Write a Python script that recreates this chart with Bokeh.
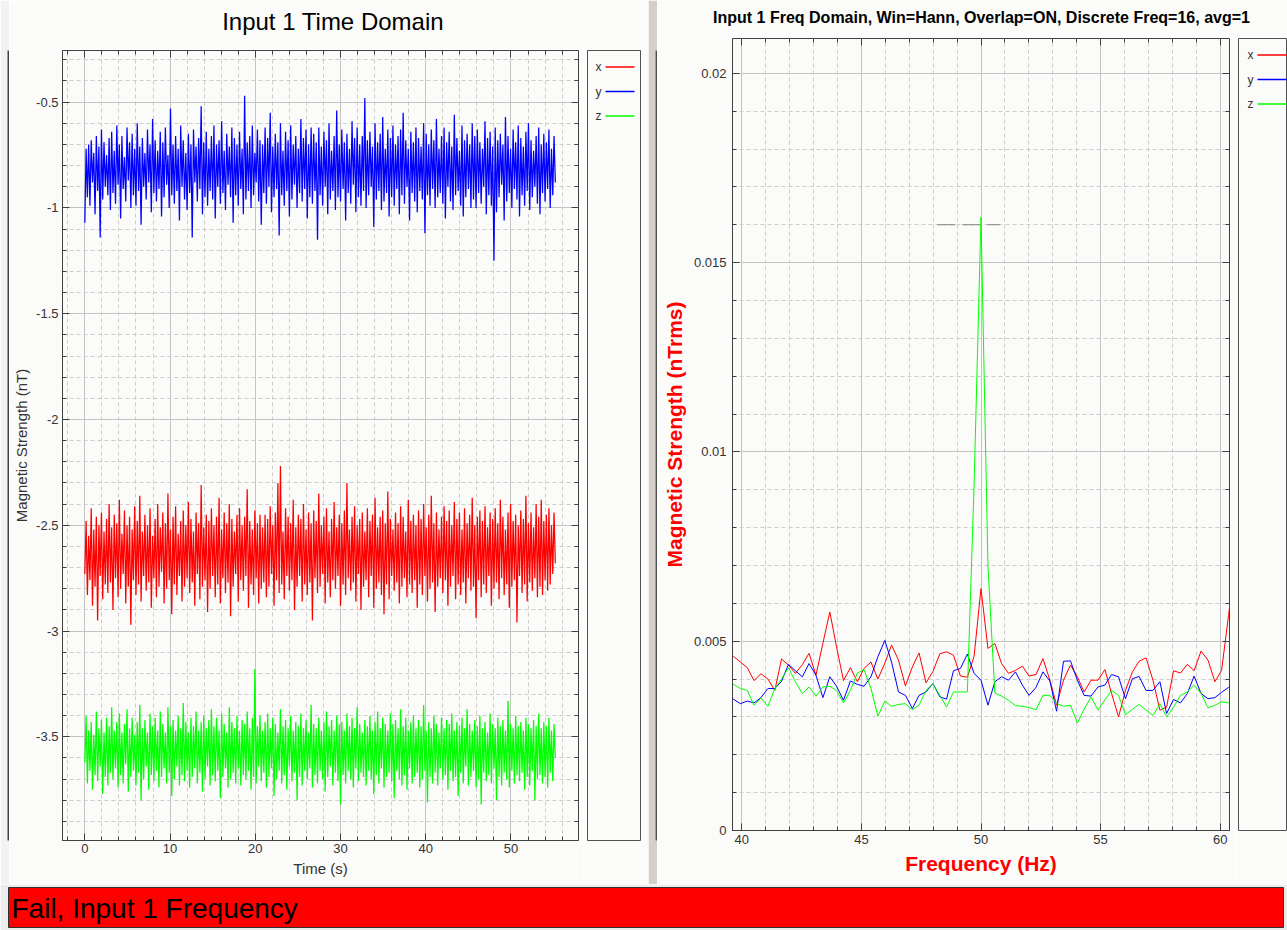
from bokeh.plotting import figure
from bokeh.layouts import row, column
from bokeh.models import Range1d, SingleIntervalTicker, LinearAxis, PrintfTickFormatter, Label
from bokeh.embed import file_html
from bokeh.resources import INLINE
from bokeh.core.properties import value

FONT = "Liberation Sans"
BG = "#fbfbf9"
FRAME = "#404040"
TICK_TXT = "#333333"

SERIES = ["x", "y", "z"]
COLORS = ["#ff0000", "#0000ff", "#00ff00"]

# ---------------- time domain (nT), one value every SAMPLE_DT seconds ----------------
SAMPLE_DT = 0.15
X_TIME = [
    -2.73, -2.48, -2.83, -2.55, -2.76, -2.42, -2.88, -2.52, -2.79, -2.46, -2.95, -2.50, -2.74, -2.44, -2.85, -2.53, -2.78, -2.47, -2.82, -2.40,
    -2.77, -2.51, -2.90, -2.45, -2.75, -2.49, -2.84, -2.38, -2.80, -2.54, -2.73, -2.43, -2.87, -2.50, -2.79, -2.46, -2.97, -2.52, -2.76, -2.41,
    -2.83, -2.48, -2.78, -2.36, -2.86, -2.53, -2.74, -2.45, -2.81, -2.50, -2.77, -2.42, -2.89, -2.55, -2.75, -2.47, -2.84, -2.40, -2.79, -2.51,
    -2.72, -2.44, -2.87, -2.49, -2.80, -2.35, -2.76, -2.52, -2.92, -2.46, -2.78, -2.41, -2.83, -2.54, -2.74, -2.48, -2.86, -2.43, -2.79, -2.50,
    -2.75, -2.39, -2.82, -2.47, -2.77, -2.53, -2.88, -2.44, -2.73, -2.49, -2.85, -2.31, -2.79, -2.51, -2.76, -2.45, -2.91, -2.48, -2.80, -2.42,
    -2.74, -2.50, -2.84, -2.46, -2.78, -2.37, -2.87, -2.52, -2.75, -2.44, -2.82, -2.49, -2.77, -2.40, -2.93, -2.47, -2.79, -2.53, -2.73, -2.45,
    -2.86, -2.42, -2.76, -2.50, -2.81, -2.46, -2.74, -2.33, -2.89, -2.48, -2.78, -2.52, -2.83, -2.43, -2.75, -2.49, -2.87, -2.45, -2.80, -2.51,
    -2.77, -2.45, -2.84, -2.47, -2.79, -2.41, -2.73, -2.50, -2.88, -2.44, -2.76, -2.30, -2.82, -2.22, -2.78, -2.53, -2.85, -2.42, -2.74, -2.46,
    -2.81, -2.49, -2.76, -2.38, -2.90, -2.51, -2.79, -2.45, -2.74, -2.47, -2.86, -2.40, -2.78, -2.52, -2.83, -2.44, -2.77, -2.49, -2.95, -2.43,
    -2.75, -2.48, -2.82, -2.35, -2.79, -2.50, -2.73, -2.46, -2.87, -2.42, -2.77, -2.53, -2.84, -2.47, -2.76, -2.39, -2.80, -2.51, -2.74, -2.45,
    -2.88, -2.49, -2.78, -2.43, -2.83, -2.30, -2.75, -2.52, -2.81, -2.46, -2.77, -2.41, -2.86, -2.50, -2.73, -2.47, -2.90, -2.44, -2.79, -2.53,
    -2.76, -2.42, -2.84, -2.48, -2.74, -2.45, -2.89, -2.37, -2.80, -2.51, -2.77, -2.46, -2.83, -2.43, -2.92, -2.49, -2.78, -2.34, -2.85, -2.47,
    -2.74, -2.52, -2.81, -2.44, -2.77, -2.49, -2.87, -2.41, -2.79, -2.46, -2.75, -2.53, -2.84, -2.38, -2.78, -2.48, -2.82, -2.45, -2.76, -2.50,
    -2.89, -2.43, -2.78, -2.47, -2.83, -2.40, -2.74, -2.51, -2.86, -2.45, -2.80, -2.36, -2.77, -2.49, -2.91, -2.44, -2.79, -2.52, -2.75, -2.46,
    -2.82, -2.41, -2.76, -2.48, -2.88, -2.43, -2.79, -2.50, -2.74, -2.39, -2.85, -2.47, -2.78, -2.44, -2.83, -2.52, -2.77, -2.42, -2.87, -2.49,
    -2.75, -2.45, -2.81, -2.37, -2.79, -2.50, -2.94, -2.46, -2.76, -2.43, -2.84, -2.48, -2.78, -2.41, -2.82, -2.51, -2.74, -2.44, -2.88, -2.47,
    -2.80, -2.42, -2.77, -2.49, -2.85, -2.38, -2.75, -2.46, -2.83, -2.52, -2.78, -2.44, -2.89, -2.40, -2.79, -2.48, -2.76, -2.45, -2.96, -2.50,
    -2.74, -2.43, -2.82, -2.47, -2.78, -2.36, -2.86, -2.49, -2.77, -2.44, -2.81, -2.51, -2.75, -2.40, -2.84, -2.46, -2.79, -2.38, -2.83, -2.48,
    -2.76, -2.45, -2.81, -2.42, -2.78, -2.50, -2.73, -2.44, -2.68,
]
Y_TIME = [
    -1.07, -0.72, -0.95, -0.70, -0.99, -0.68, -0.88, -0.74, -1.03, -0.66, -0.92, -0.71, -1.14, -0.63, -0.96, -0.69, -0.90, -0.75, -0.94, -0.67,
    -1.01, -0.64, -0.93, -0.73, -0.98, -0.61, -0.89, -0.70, -1.05, -0.66, -0.91, -0.76, -0.97, -0.62, -0.87, -0.69, -1.00, -0.65, -0.94, -0.72,
    -0.99, -0.60, -0.92, -0.71, -1.08, -0.67, -0.90, -0.74, -0.96, -0.63, -0.88, -0.70, -1.02, -0.58, -0.93, -0.68, -0.97, -0.73, -0.91, -0.64,
    -1.04, -0.69, -0.95, -0.62, -0.89, -0.75, -1.00, -0.53, -0.94, -0.70, -0.98, -0.66, -0.92, -0.72, -1.06, -0.61, -0.90, -0.68, -0.96, -0.74,
    -1.01, -0.65, -0.93, -0.70, -1.14, -0.63, -0.88, -0.71, -0.97, -0.67, -0.91, -0.52, -1.03, -0.69, -0.95, -0.64, -0.99, -0.72, -0.92, -0.66,
    -0.96, -0.61, -1.05, -0.70, -0.90, -0.68, -0.98, -0.59, -0.93, -0.73, -1.01, -0.65, -0.89, -0.71, -0.95, -0.62, -1.07, -0.67, -0.94, -0.70,
    -0.99, -0.64, -0.91, -0.72, -1.03, -0.47, -0.96, -0.69, -0.92, -0.66, -1.00, -0.61, -0.94, -0.74, -0.88, -0.63, -0.97, -0.68, -1.08, -0.70,
    -0.93, -0.62, -0.98, -0.67, -0.90, -0.55, -1.02, -0.71, -0.95, -0.65, -0.91, -0.69, -1.13, -0.60, -0.94, -0.73, -0.99, -0.64, -0.92, -0.68,
    -1.04, -0.61, -0.96, -0.70, -0.89, -0.66, -1.00, -0.72, -0.93, -0.58, -0.97, -0.67, -0.91, -0.63, -1.05, -0.70, -0.95, -0.62, -0.98, -0.65,
    -0.92, -0.69, -1.15, -0.62, -0.94, -0.71, -0.99, -0.64, -0.90, -0.68, -1.03, -0.60, -0.96, -0.73, -0.92, -0.66, -1.01, -0.54, -0.95, -0.70,
    -0.97, -0.63, -0.91, -0.69, -1.06, -0.65, -0.93, -0.72, -0.98, -0.59, -0.89, -0.67, -1.02, -0.62, -0.95, -0.70, -0.99, -0.66, -0.92, -0.48,
    -1.00, -0.68, -0.94, -0.64, -0.90, -0.71, -1.09, -0.60, -0.96, -0.69, -0.92, -0.65, -1.01, -0.57, -0.97, -0.72, -0.93, -0.63, -1.04, -0.67,
    -0.95, -0.61, -0.99, -0.70, -0.91, -0.66, -1.03, -0.63, -0.94, -0.55, -0.98, -0.68, -0.90, -0.72, -1.06, -0.64, -0.93, -0.69, -0.97, -0.62,
    -1.02, -0.67, -0.92, -0.71, -0.96, -0.60, -1.12, -0.65, -0.94, -0.70, -0.99, -0.63, -0.91, -0.68, -1.00, -0.58, -0.95, -0.72, -0.93, -0.66,
    -0.98, -0.62, -1.05, -0.69, -0.90, -0.64, -0.97, -0.71, -1.01, -0.56, -0.94, -0.67, -0.92, -0.73, -0.99, -0.61, -1.04, -0.68, -0.95, -0.65,
    -0.91, -0.70, -1.00, -0.60, -0.96, -0.66, -1.00, -0.63, -0.93, -0.69, -0.98, -0.72, -0.90, -0.59, -1.03, -0.67, -0.94, -0.64, -0.99, -0.71,
    -1.25, -0.62, -1.02, -0.68, -0.95, -0.65, -0.89, -0.70, -1.06, -0.57, -0.97, -0.66, -0.93, -0.72, -1.00, -0.63, -0.91, -0.69, -0.96, -0.61,
    -1.04, -0.67, -0.94, -0.71, -0.99, -0.64, -0.92, -0.60, -1.01, -0.68, -0.95, -0.73, -0.90, -0.66, -0.98, -0.62, -1.03, -0.70, -0.93, -0.65,
    -0.97, -0.69, -0.91, -0.63, -1.00, -0.72, -0.94, -0.66, -0.88,
]
Z_TIME = [
    -3.62, -3.40, -3.72, -3.47, -3.66, -3.43, -3.75, -3.49, -3.68, -3.38, -3.71, -3.46, -3.64, -3.42, -3.77, -3.48, -3.69, -3.41, -3.73, -3.45,
    -3.67, -3.36, -3.70, -3.47, -3.65, -3.43, -3.74, -3.39, -3.68, -3.48, -3.72, -3.44, -3.63, -3.37, -3.76, -3.46, -3.69, -3.41, -3.66, -3.49,
    -3.73, -3.43, -3.67, -3.35, -3.80, -3.46, -3.70, -3.42, -3.64, -3.48, -3.75, -3.39, -3.68, -3.45, -3.71, -3.41, -3.66, -3.47, -3.74, -3.38,
    -3.69, -3.44, -3.65, -3.48, -3.72, -3.36, -3.67, -3.45, -3.78, -3.42, -3.70, -3.47, -3.64, -3.40, -3.73, -3.46, -3.68, -3.34, -3.71, -3.43,
    -3.66, -3.48, -3.74, -3.41, -3.69, -3.45, -3.65, -3.38, -3.72, -3.47, -3.67, -3.43, -3.76, -3.40, -3.70, -3.46, -3.64, -3.42, -3.73, -3.37,
    -3.68, -3.45, -3.71, -3.41, -3.66, -3.47, -3.79, -3.39, -3.69, -3.44, -3.65, -3.48, -3.74, -3.36, -3.70, -3.43, -3.67, -3.46, -3.72, -3.40,
    -3.65, -3.47, -3.73, -3.42, -3.68, -3.44, -3.70, -3.38, -3.66, -3.46, -3.75, -3.41, -3.69, -3.18, -3.72, -3.45, -3.64, -3.40, -3.71, -3.47,
    -3.67, -3.43, -3.74, -3.39, -3.69, -3.46, -3.65, -3.41, -3.78, -3.44, -3.70, -3.48, -3.66, -3.37, -3.72, -3.45, -3.68, -3.42, -3.75, -3.46,
    -3.64, -3.40, -3.71, -3.47, -3.67, -3.43, -3.80, -3.45, -3.69, -3.39, -3.73, -3.46, -3.66, -3.42, -3.70, -3.48, -3.65, -3.35, -3.74, -3.44,
    -3.68, -3.46, -3.72, -3.41, -3.66, -3.47, -3.70, -3.43, -3.76, -3.38, -3.69, -3.45, -3.64, -3.42, -3.73, -3.47, -3.67, -3.40, -3.71, -3.44,
    -3.82, -3.43, -3.68, -3.47, -3.72, -3.39, -3.66, -3.45, -3.70, -3.41, -3.74, -3.46, -3.65, -3.36, -3.71, -3.44, -3.67, -3.48, -3.69, -3.42,
    -3.73, -3.45, -3.66, -3.40, -3.70, -3.47, -3.77, -3.43, -3.68, -3.38, -3.72, -3.46, -3.65, -3.41, -3.74, -3.44, -3.69, -3.47, -3.67, -3.39,
    -3.71, -3.44, -3.79, -3.42, -3.66, -3.46, -3.70, -3.37, -3.73, -3.45, -3.68, -3.41, -3.75, -3.47, -3.65, -3.43, -3.72, -3.40, -3.69, -3.46,
    -3.67, -3.42, -3.74, -3.45, -3.70, -3.35, -3.66, -3.47, -3.81, -3.43, -3.69, -3.46, -3.72, -3.40, -3.67, -3.44, -3.73, -3.48, -3.65, -3.41,
    -3.70, -3.46, -3.68, -3.42, -3.75, -3.44, -3.66, -3.39, -3.71, -3.47, -3.69, -3.43, -3.78, -3.45, -3.67, -3.41, -3.72, -3.46, -3.64, -3.37,
    -3.73, -3.44, -3.69, -3.47, -3.66, -3.42, -3.74, -3.45, -3.70, -3.40, -3.82, -3.46, -3.67, -3.43, -3.71, -3.48, -3.68, -3.39, -3.72, -3.44,
    -3.65, -3.46, -3.80, -3.41, -3.69, -3.45, -3.73, -3.42, -3.67, -3.47, -3.70, -3.33, -3.74, -3.44, -3.66, -3.46, -3.72, -3.40, -3.68, -3.45,
    -3.71, -3.43, -3.67, -3.47, -3.75, -3.41, -3.69, -3.44, -3.73, -3.46, -3.66, -3.42, -3.80, -3.45, -3.70, -3.39, -3.68, -3.46, -3.72, -3.43,
    -3.69, -3.45, -3.74, -3.41, -3.67, -3.47, -3.71, -3.44, -3.60,
]

# ---------------- frequency domain (nTrms) ----------------
FREQ_HZ = [
    39.36, 39.65, 39.94, 40.23, 40.51, 40.80, 41.09, 41.38, 41.66, 41.95,
    42.24, 42.53, 42.81, 43.10, 43.39, 43.68, 43.96, 44.25, 44.54, 44.83,
    45.11, 45.40, 45.69, 45.98, 46.26, 46.55, 46.84, 47.13, 47.41, 47.70,
    47.99, 48.28, 48.56, 48.85, 49.14, 49.43, 49.71, 50.00, 50.29, 50.58,
    50.86, 51.15, 51.44, 51.73, 52.01, 52.30, 52.59, 52.88, 53.16, 53.45,
    53.74, 54.03, 54.31, 54.60, 54.89, 55.18, 55.46, 55.75, 56.04, 56.33,
    56.61, 56.90, 57.19, 57.48, 57.76, 58.05, 58.34, 58.63, 58.91, 59.20,
    59.49, 59.78, 60.06, 60.35, 60.64,
]
X_FREQ = [
    0.00475, 0.00460, 0.00445, 0.00430, 0.00396, 0.00414, 0.00400, 0.00370, 0.00453, 0.00437,
    0.00415, 0.00438, 0.00468, 0.00410, 0.00495, 0.00577, 0.00485, 0.00396, 0.00430, 0.00393,
    0.00428, 0.00445, 0.00400, 0.00442, 0.00490, 0.00450, 0.00382, 0.00432, 0.00469, 0.00390,
    0.00420, 0.00467, 0.00472, 0.00463, 0.00408, 0.00405, 0.00460, 0.00639, 0.00481, 0.00494,
    0.00441, 0.00415, 0.00423, 0.00434, 0.00408, 0.00412, 0.00454, 0.00397, 0.00331, 0.00397,
    0.00437, 0.00406, 0.00366, 0.00397, 0.00397, 0.00425, 0.00362, 0.00300, 0.00370, 0.00419,
    0.00447, 0.00456, 0.00397, 0.00318, 0.00326, 0.00422, 0.00416, 0.00439, 0.00422, 0.00474,
    0.00450, 0.00393, 0.00423, 0.00568, 0.00720,
]
Y_FREQ = [
    0.00355, 0.00347, 0.00335, 0.00342, 0.00337, 0.00351, 0.00375, 0.00375, 0.00394, 0.00439,
    0.00422, 0.00406, 0.00441, 0.00410, 0.00351, 0.00406, 0.00381, 0.00344, 0.00395, 0.00386,
    0.00381, 0.00406, 0.00459, 0.00502, 0.00445, 0.00366, 0.00357, 0.00322, 0.00357, 0.00366,
    0.00388, 0.00353, 0.00347, 0.00422, 0.00428, 0.00466, 0.00415, 0.00397, 0.00331, 0.00393,
    0.00406, 0.00397, 0.00419, 0.00384, 0.00357, 0.00378, 0.00419, 0.00395, 0.00315, 0.00447,
    0.00448, 0.00397, 0.00357, 0.00355, 0.00379, 0.00384, 0.00412, 0.00406, 0.00348, 0.00401,
    0.00407, 0.00370, 0.00370, 0.00393, 0.00309, 0.00346, 0.00337, 0.00362, 0.00408, 0.00362,
    0.00348, 0.00351, 0.00365, 0.00378, 0.00390,
]
Z_FREQ = [
    0.00395, 0.00386, 0.00375, 0.00370, 0.00331, 0.00350, 0.00328, 0.00375, 0.00400, 0.00430,
    0.00393, 0.00362, 0.00379, 0.00355, 0.00379, 0.00381, 0.00370, 0.00337, 0.00370, 0.00416,
    0.00425, 0.00375, 0.00302, 0.00342, 0.00328, 0.00333, 0.00335, 0.00319, 0.00331, 0.00370,
    0.00388, 0.00357, 0.00326, 0.00366, 0.00366, 0.00366, 0.00910, 0.01620, 0.00700, 0.00363,
    0.00355, 0.00344, 0.00330, 0.00328, 0.00325, 0.00319, 0.00357, 0.00357, 0.00335, 0.00328,
    0.00331, 0.00284, 0.00320, 0.00353, 0.00318, 0.00345, 0.00370, 0.00357, 0.00306, 0.00320,
    0.00333, 0.00318, 0.00304, 0.00335, 0.00300, 0.00326, 0.00357, 0.00366, 0.00384, 0.00362,
    0.00324, 0.00331, 0.00340, 0.00337, 0.00340,
]
LIMIT_LEVEL = 0.016
LIMIT_SPAN = [48.17, 50.79]

TIME_X_RANGE = (-2.62, 57.92)
TIME_Y_RANGE = (-3.99, -0.256)
FREQ_X_RANGE = (39.61, 60.39)
FREQ_Y_RANGE = (0.0, 0.02092)
TIME_TITLE = "Input 1 Time Domain"
FREQ_TITLE = "Input 1 Freq Domain, Win=Hann, Overlap=ON, Discrete Freq=16, avg=1"
STATUS_TEXT = "Fail, Input 1 Frequency"


def blank(width, height, left, right, top, bottom, frame_color, border_color, outline=None):
    f = figure(width=width, height=height, x_range=Range1d(0, max(width - left - right, 1)),
               y_range=Range1d(0, max(height - top - bottom, 1)),
               x_axis_type=None, y_axis_type=None, toolbar_location=None, output_backend="svg",
               min_border_left=left, min_border_right=right, min_border_top=top, min_border_bottom=bottom)
    f.background_fill_color = frame_color
    f.border_fill_color = border_color
    f.outline_line_color = outline
    return f


def title_strip(width, height, text, cx, baseline_from_bottom, size, style):
    f = blank(width, height, 0, 0, 0, 0, BG, BG)
    f.add_layout(Label(x=cx, y=baseline_from_bottom, text=text, text_font=FONT, text_font_size=size,
                       text_font_style=style, text_align="center", text_baseline="alphabetic",
                       text_color="#000000"))
    return f


def style_axis(ax):
    ax.major_tick_in = 7
    ax.major_tick_out = 0
    ax.minor_tick_in = 4
    ax.minor_tick_out = 0
    ax.axis_line_color = FRAME
    ax.major_tick_line_color = FRAME
    ax.minor_tick_line_color = FRAME
    ax.major_label_text_font = FONT
    ax.major_label_text_font_size = "13px"
    ax.major_label_text_color = TICK_TXT
    ax.axis_label_text_font = FONT


def chart(width, height, left, right, top, bottom, xr, yr, xtick, ytick):
    p = figure(width=width, height=height, x_range=Range1d(*xr), y_range=Range1d(*yr),
               toolbar_location=None, output_backend="svg",
               min_border_left=left, min_border_right=right, min_border_top=top, min_border_bottom=bottom)
    p.background_fill_color = BG
    p.border_fill_color = BG
    p.outline_line_color = FRAME
    xa, ya = p.xaxis[0], p.yaxis[0]
    xa.ticker = xtick
    ya.ticker = ytick
    p.xgrid.ticker = xtick
    p.ygrid.ticker = ytick
    ya.formatter = PrintfTickFormatter(format="%.3g")
    style_axis(xa)
    style_axis(ya)
    for g in (p.xgrid, p.ygrid):
        g.grid_line_color = "#c4c4c4"
        g.minor_grid_line_color = "#cdcdcd"
        g.minor_grid_line_dash = "4 3"
    for side, tk in (("right", ytick), ("above", xtick)):
        ax = LinearAxis(ticker=tk, major_label_text_font_size="0px", major_label_text_color=None,
                        major_label_standoff=0, axis_line_color=None, major_tick_in=7, major_tick_out=0,
                        minor_tick_in=4, minor_tick_out=0,
                        major_tick_line_color=FRAME, minor_tick_line_color=FRAME)
        p.add_layout(ax, side)
    return p, xa, ya


def legend_box(width, height, left, right, top, bottom, text_x, line_x0, line_x1):
    fw = width - left - right
    fh = height - top - bottom
    lg = figure(width=width, height=height, x_range=Range1d(0, fw), y_range=Range1d(fh, 0),
                x_axis_type=None, y_axis_type=None, toolbar_location=None, output_backend="svg",
                min_border_left=left, min_border_right=right, min_border_top=top, min_border_bottom=bottom)
    lg.background_fill_color = BG
    lg.border_fill_color = BG
    lg.outline_line_color = "#505050"
    ys = [16.5 + 24.5 * k for k in range(len(SERIES))]
    lg.segment(x0=line_x0, y0=ys, x1=line_x1, y1=ys, line_color=COLORS, line_width=1.5)
    lg.text(x=text_x, y=ys, text=SERIES, text_font=value(FONT), text_font_size="12px",
            text_baseline="middle", text_align="left", text_color="#333333")
    return lg


# ---------------- left panel: time domain ----------------
strip = blank(9, 884, 7, 0, 5, 2, FRAME, "#f2f2f2")

title_t = title_strip(574, 49, TIME_TITLE, 301, 28, "24px", "normal")
pt, pt_x, pt_y = chart(574, 835, 53, 5, 1, 44, TIME_X_RANGE, TIME_Y_RANGE,
                       SingleIntervalTicker(interval=10, num_minor_ticks=5),
                       SingleIntervalTicker(interval=0.5, num_minor_ticks=5))
for col, vals in zip(COLORS, [X_TIME, Y_TIME, Z_TIME]):
    t = [round(SAMPLE_DT * i, 3) for i in range(len(vals))]
    pt.line(t, vals, line_color=col, line_width=1.25)
pt_x.axis_label = "Time (s)"
pt_y.axis_label = "Magnetic Strength (nT)"
for ax in (pt_x, pt_y):
    ax.axis_label_text_font_size = "15px"
    ax.axis_label_text_font_style = "normal"
    ax.axis_label_text_color = "#333333"
pt_x.major_label_standoff = 3
pt_x.axis_label_standoff = 4
pt_y.major_label_standoff = 4
pt_y.axis_label_standoff = 3

leg_t = legend_box(65, 884, 4, 8, 50, 44, 8, 18, 47)

sep = blank(9, 884, 7, 0, 3, 0, "#505050", "#d4d0c8")

# ---------------- right panel: frequency domain ----------------
title_f = title_strip(630, 37, FREQ_TITLE, 324, 20, "16px", "bold")
pf, pf_x, pf_y = chart(578, 847, 75, 6, 1, 54, FREQ_X_RANGE, FREQ_Y_RANGE,
                       SingleIntervalTicker(interval=5, num_minor_ticks=5),
                       SingleIntervalTicker(interval=0.005, num_minor_ticks=5))
pf.line(LIMIT_SPAN, [LIMIT_LEVEL, LIMIT_LEVEL], line_color="#808080", line_width=1.2, line_dash="18 7")
for col, vals in zip(COLORS, [X_FREQ, Y_FREQ, Z_FREQ]):
    pf.line(FREQ_HZ, vals, line_color=col, line_width=1)
pf_x.axis_label = "Frequency (Hz)"
pf_y.axis_label = "Magnetic Strength (nTrms)"
for ax in (pf_x, pf_y):
    ax.axis_label_text_font_size = "21px"
    ax.axis_label_text_font_style = "bold"
    ax.axis_label_text_color = "#ff0000"
pf_x.major_label_standoff = 4
pf_x.axis_label_standoff = 5
pf_y.major_label_standoff = 6
pf_y.axis_label_standoff = 5

leg_f = legend_box(52, 847, 3, 0, 1, 54, 9, 19, 70)

# ---------------- status bar ----------------
bar = figure(width=1287, height=46, x_range=Range1d(0, 1275), y_range=Range1d(0, 40),
             x_axis_type=None, y_axis_type=None, toolbar_location=None, output_backend="svg",
             min_border_left=8, min_border_right=4, min_border_top=3, min_border_bottom=3)
bar.background_fill_color = "#ff0000"
bar.border_fill_color = "#ececec"
bar.outline_line_color = "#303030"
bar.add_layout(Label(x=3, y=19, text=STATUS_TEXT, text_font=FONT, text_font_size="28px",
                     text_baseline="middle", text_color="#000000"))

left_col = column(title_t, pt)
right_col = column(title_f, row(pf, leg_f))
layout = column(row(strip, left_col, leg_t, sep, right_col), bar)
open("out.html", "w").write(file_html(layout, INLINE))
